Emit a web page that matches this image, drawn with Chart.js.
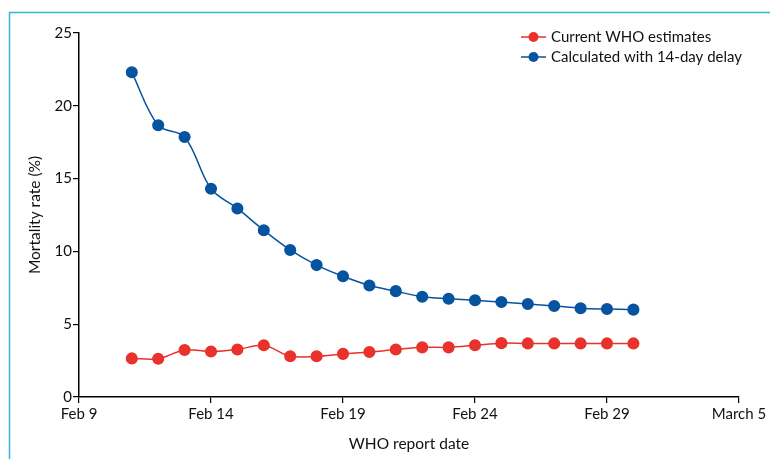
<!DOCTYPE html>
<html>
<head>
<meta charset="utf-8">
<script src="https://cdn.jsdelivr.net/npm/chart.js@4"></script>
<style>
  html, body { margin: 0; padding: 0; background: #fff; }
  #wrap { width: 770px; height: 459px; position: relative; }
</style>
</head>
<body>
<div id="wrap"><canvas id="mortalityChart"></canvas></div>
<script>
// WHO report dates (days since Feb 9, 2020)
var reportDates = ['Feb 11', 'Feb 12', 'Feb 13', 'Feb 14', 'Feb 15', 'Feb 16', 'Feb 17', 'Feb 18', 'Feb 19', 'Feb 20',
                   'Feb 21', 'Feb 22', 'Feb 23', 'Feb 24', 'Feb 25', 'Feb 26', 'Feb 27', 'Feb 28', 'Feb 29', 'Mar 1'];
var reportDays = [2, 3, 4, 5, 6, 7, 8, 9, 10, 11, 12, 13, 14, 15, 16, 17, 18, 19, 20, 21];

// Mortality rate (%)
var currentWho = [2.65, 2.63, 3.23, 3.12, 3.26, 3.55, 2.80, 2.80, 2.96, 3.09,
                  3.26, 3.41, 3.41, 3.55, 3.70, 3.68, 3.68, 3.68, 3.68, 3.68];
var delayed14 = [22.3, 18.66, 17.86, 14.3, 12.95, 11.45, 10.1, 9.06, 8.29, 7.66,
                 7.27, 6.89, 6.75, 6.64, 6.52, 6.39, 6.25, 6.1, 6.04, 6.0];

// x axis tick labels, every 5 days from Feb 9
var xTickLabels = ['Feb 9', 'Feb 14', 'Feb 19', 'Feb 24', 'Feb 29', 'March 5'];
var yTicks = [0, 5, 10, 15, 20, 25];

var FONT = 'Lato';
var RED = '#e8322b';
var BLUE = '#0653a0';
var TEXT = '#111';

function toPoints(values) {
    return values.map(function (v, i) { return { x: reportDays[i], y: v }; });
}

// light blue frame round the figure
var framePlugin = {
    id: 'frame',
    beforeDraw: function (chart) {
        var ctx = chart.ctx;
        ctx.save();
        ctx.strokeStyle = '#35b4da';
        ctx.lineWidth = 1.5;
        ctx.beginPath();
        ctx.moveTo(9.5, 470);
        ctx.lineTo(9.5, 12.5);
        ctx.lineTo(780, 12.5);
        ctx.stroke();
        ctx.restore();
    }
};

// legend with a short line through the marker
var lineLegendPlugin = {
    id: 'lineLegend',
    afterDraw: function (chart) {
        var ctx = chart.ctx;
        ctx.save();
        chart.data.datasets.forEach(function (ds, i) {
            var y = 37 + i * 20;
            ctx.strokeStyle = ds.borderColor;
            ctx.lineWidth = 1.5;
            ctx.beginPath();
            ctx.moveTo(521, y);
            ctx.lineTo(546, y);
            ctx.stroke();
            ctx.fillStyle = ds.pointBackgroundColor;
            ctx.beginPath();
            ctx.arc(533.5, y, 5, 0, Math.PI * 2);
            ctx.fill();
            ctx.fillStyle = TEXT;
            ctx.font = '15px ' + FONT;
            ctx.textBaseline = 'middle';
            ctx.fillText(ds.label, 551, y);
        });
        ctx.restore();
    }
};

function createMortalityChart() {
    var canvas = document.getElementById('mortalityChart');
    new Chart(canvas, {
        type: 'line',
        data: {
            datasets: [{
                label: 'Current WHO estimates',
                data: toPoints(currentWho),
                borderColor: RED,
                pointBackgroundColor: RED,
                pointBorderColor: RED,
                borderWidth: 1.5,
                pointRadius: 5.3,
                tension: 0.35
            }, {
                label: 'Calculated with 14-day delay',
                data: toPoints(delayed14),
                borderColor: BLUE,
                pointBackgroundColor: BLUE,
                pointBorderColor: BLUE,
                borderWidth: 1.5,
                pointRadius: 5.3,
                tension: 0.35
            }]
        },
        options: {
            responsive: false,
            animation: false,
            devicePixelRatio: 1,
            layout: { padding: { left: 10, right: 31, top: 33, bottom: 0 } },
            plugins: {
                legend: { display: false },
                tooltip: { enabled: false }
            },
            scales: {
                x: {
                    type: 'linear',
                    min: 0,
                    max: 25,
                    afterBuildTicks: function (scale) {
                        scale.ticks = xTickLabels.map(function (t, i) { return { value: i * 5 }; });
                    },
                    afterFit: function (scale) { scale.height = 62; },
                    ticks: {
                        callback: function (value) { return xTickLabels[value / 5]; },
                        color: TEXT,
                        font: { family: FONT, size: 15 },
                        padding: 2,
                        maxRotation: 0,
                        autoSkip: false
                    },
                    grid: { drawOnChartArea: false, drawTicks: true, tickLength: 6, color: '#000', lineWidth: 1.2 },
                    border: { color: '#000', width: 1.5 },
                    title: {
                        display: true,
                        text: 'WHO report date',
                        color: TEXT,
                        font: { family: FONT, size: 15.5 },
                        padding: { top: 0, bottom: 6 }
                    }
                },
                y: {
                    min: 0,
                    max: 25,
                    afterBuildTicks: function (scale) {
                        scale.ticks = yTicks.map(function (v) { return { value: v }; });
                    },
                    afterFit: function (scale) { scale.width = 69; },
                    ticks: {
                        color: TEXT,
                        font: { family: FONT, size: 15 },
                        padding: 1
                    },
                    grid: { drawOnChartArea: false, drawTicks: true, tickLength: 6, color: '#000', lineWidth: 1.2 },
                    border: { color: '#000', width: 1.5 },
                    title: {
                        display: true,
                        text: 'Mortality rate (%)',
                        color: TEXT,
                        font: { family: FONT, size: 15.5 },
                        padding: { top: 16, bottom: 0 }
                    }
                }
            }
        },
        plugins: [framePlugin, lineLegendPlugin]
    });
}

var c = document.getElementById('mortalityChart');
c.width = 770;
c.height = 459;
createMortalityChart();
</script>
</body>
</html>
